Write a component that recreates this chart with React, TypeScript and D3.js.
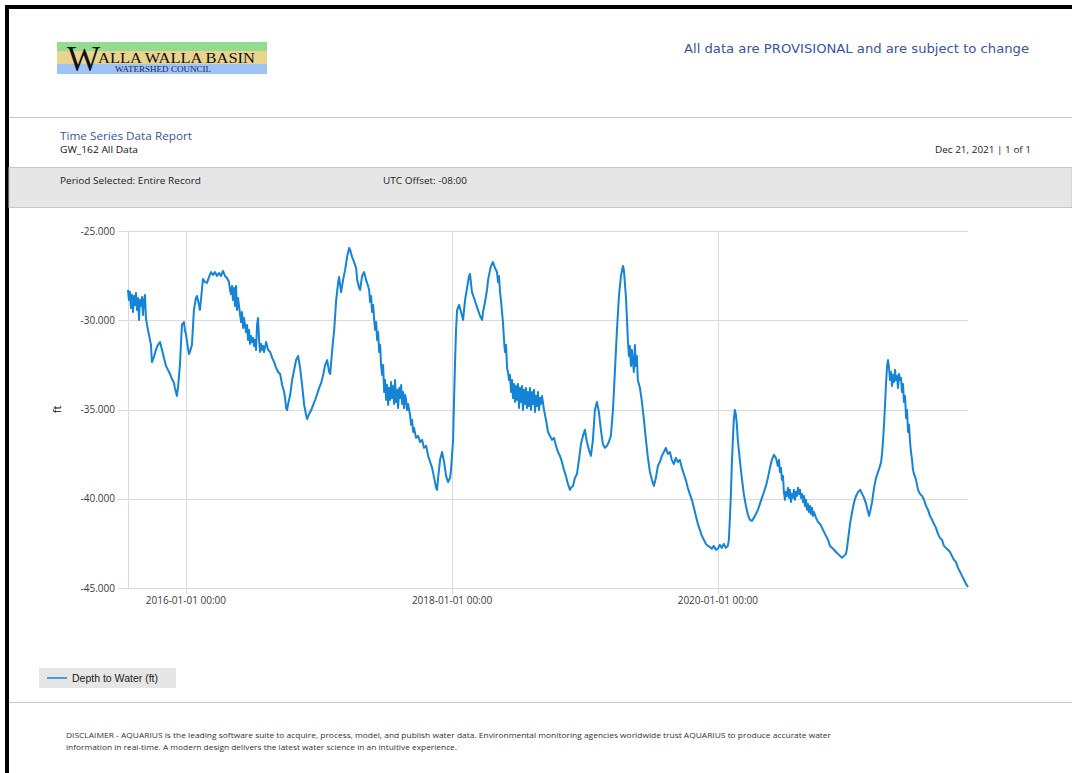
import React from "react";
import * as d3 from "d3";

// Depth to water (ft) observations, [decimal year, value], grouped by calendar year
const obs2015: [number, number][] = [
  [2015.564,-28.30],[2015.571,-28.86],[2015.579,-28.42],[2015.586,-29.31],[2015.594,-28.58],[2015.602,-29.54],[2015.609,-28.64],[2015.617,-29.14],[2015.624,-28.47],[2015.632,-29.42],[2015.639,-28.75],[2015.647,-29.98],[2015.654,-28.86],[2015.662,-29.20],[2015.669,-28.70],[2015.677,-29.70],[2015.684,-28.86],[2015.692,-28.58],[2015.699,-29.87],[2015.707,-30.26],[2015.722,-30.82],[2015.737,-31.38],[2015.744,-32.34],[2015.759,-32.06],[2015.774,-31.66],[2015.789,-31.38],[2015.805,-31.22],[2015.820,-31.66],[2015.835,-32.11],[2015.850,-32.56],[2015.865,-32.78],[2015.880,-33.01],[2015.895,-33.29],[2015.910,-33.51],[2015.917,-33.79],[2015.925,-34.02],[2015.932,-34.24],[2015.940,-33.79],[2015.955,-32.50],[2015.962,-31.38],[2015.970,-30.26],[2015.985,-30.10],[2015.992,-30.54],
];
const obs2016: [number, number][] = [
  [2016.000,-30.77],[2016.015,-31.55],[2016.023,-31.89],[2016.030,-31.78],[2016.045,-31.38],[2016.060,-29.42],[2016.075,-28.75],[2016.083,-28.64],[2016.098,-29.14],[2016.105,-29.42],[2016.120,-28.30],[2016.128,-27.69],[2016.143,-27.86],[2016.158,-27.91],[2016.173,-27.58],[2016.188,-27.30],[2016.203,-27.46],[2016.218,-27.30],[2016.233,-27.52],[2016.248,-27.35],[2016.263,-27.52],[2016.278,-27.24],[2016.293,-27.52],[2016.308,-27.63],[2016.323,-27.86],[2016.331,-28.30],[2016.338,-28.53],[2016.346,-28.08],[2016.353,-28.86],[2016.361,-28.19],[2016.368,-29.20],[2016.376,-28.08],[2016.383,-29.42],[2016.391,-28.75],[2016.406,-29.65],[2016.414,-30.10],[2016.421,-29.54],[2016.429,-30.43],[2016.436,-29.87],[2016.451,-30.66],[2016.459,-30.26],[2016.466,-31.10],[2016.474,-30.54],[2016.481,-31.33],[2016.489,-30.88],[2016.496,-31.22],[2016.504,-30.99],[2016.511,-31.44],[2016.519,-31.10],[2016.526,-31.66],[2016.534,-30.26],[2016.541,-29.87],[2016.549,-31.10],[2016.556,-31.78],[2016.564,-31.33],[2016.571,-31.66],[2016.579,-31.44],[2016.586,-31.78],[2016.602,-31.22],[2016.617,-31.66],[2016.632,-31.78],[2016.647,-32.11],[2016.662,-32.34],[2016.677,-32.67],[2016.692,-32.90],[2016.707,-33.01],[2016.722,-33.63],[2016.737,-34.02],[2016.744,-34.36],[2016.752,-34.92],[2016.759,-35.03],[2016.767,-34.69],[2016.782,-34.19],[2016.797,-33.35],[2016.812,-32.78],[2016.827,-32.23],[2016.842,-32.00],[2016.857,-32.67],[2016.872,-33.63],[2016.887,-34.74],[2016.902,-35.31],[2016.910,-35.53],[2016.925,-35.25],[2016.940,-35.03],[2016.955,-34.74],[2016.970,-34.46],[2016.985,-34.13],
];
const obs2017: [number, number][] = [
  [2017.000,-33.79],[2017.015,-33.51],[2017.030,-33.06],[2017.045,-32.50],[2017.060,-32.23],[2017.075,-32.90],[2017.083,-33.01],[2017.098,-31.66],[2017.113,-30.54],[2017.128,-28.86],[2017.143,-27.86],[2017.150,-27.58],[2017.165,-28.42],[2017.180,-27.74],[2017.195,-27.18],[2017.211,-26.40],[2017.226,-25.95],[2017.233,-26.06],[2017.248,-26.46],[2017.263,-26.74],[2017.278,-27.07],[2017.286,-27.74],[2017.301,-28.19],[2017.308,-28.30],[2017.323,-27.52],[2017.338,-27.30],[2017.353,-27.74],[2017.368,-28.08],[2017.376,-28.30],[2017.383,-28.98],[2017.391,-28.64],[2017.398,-29.54],[2017.406,-29.14],[2017.414,-29.98],[2017.421,-30.54],[2017.429,-30.10],[2017.436,-31.10],[2017.444,-30.66],[2017.451,-31.78],[2017.459,-31.38],[2017.466,-32.56],[2017.474,-33.06],[2017.481,-32.50],[2017.489,-34.02],[2017.496,-33.35],[2017.504,-34.46],[2017.511,-33.63],[2017.519,-34.74],[2017.526,-33.79],[2017.534,-34.46],[2017.541,-33.46],[2017.549,-34.36],[2017.556,-33.68],[2017.564,-34.69],[2017.571,-33.35],[2017.579,-34.58],[2017.586,-33.90],[2017.594,-34.92],[2017.602,-33.79],[2017.609,-34.36],[2017.617,-33.63],[2017.624,-34.69],[2017.632,-34.02],[2017.639,-34.92],[2017.647,-34.19],[2017.654,-34.46],[2017.662,-35.03],[2017.669,-34.69],[2017.684,-35.31],[2017.692,-35.86],[2017.699,-35.58],[2017.707,-36.26],[2017.714,-36.03],[2017.729,-36.59],[2017.744,-36.48],[2017.759,-36.82],[2017.774,-36.70],[2017.789,-37.15],[2017.805,-37.04],[2017.820,-37.60],[2017.835,-37.94],[2017.850,-38.27],[2017.865,-38.83],[2017.880,-39.39],[2017.887,-39.50],[2017.895,-38.83],[2017.910,-37.82],[2017.925,-37.38],[2017.940,-37.94],[2017.955,-38.72],[2017.970,-39.06],[2017.985,-38.83],[2017.992,-38.38],
];
const obs2018: [number, number][] = [
  [2018.008,-36.70],[2018.015,-34.46],[2018.023,-32.23],[2018.030,-30.54],[2018.038,-29.42],[2018.053,-29.14],[2018.068,-29.54],[2018.083,-29.98],[2018.098,-28.86],[2018.113,-28.19],[2018.128,-27.52],[2018.135,-27.41],[2018.150,-28.42],[2018.165,-28.75],[2018.180,-29.09],[2018.195,-29.42],[2018.211,-29.76],[2018.226,-29.98],[2018.233,-29.54],[2018.248,-28.98],[2018.263,-28.30],[2018.271,-27.74],[2018.286,-27.18],[2018.293,-26.96],[2018.308,-26.74],[2018.323,-27.07],[2018.338,-27.30],[2018.346,-27.86],[2018.353,-27.52],[2018.361,-28.42],[2018.368,-28.86],[2018.376,-29.54],[2018.383,-30.10],[2018.391,-31.10],[2018.398,-31.78],[2018.406,-31.38],[2018.414,-32.67],[2018.421,-32.90],[2018.429,-33.35],[2018.436,-33.06],[2018.444,-34.02],[2018.451,-33.35],[2018.459,-34.36],[2018.466,-33.57],[2018.474,-34.58],[2018.481,-33.68],[2018.489,-34.46],[2018.496,-33.57],[2018.504,-34.92],[2018.511,-33.79],[2018.519,-34.58],[2018.526,-33.68],[2018.534,-35.03],[2018.541,-33.90],[2018.549,-34.69],[2018.556,-33.79],[2018.564,-34.92],[2018.571,-34.02],[2018.579,-34.80],[2018.586,-33.79],[2018.594,-35.03],[2018.602,-34.02],[2018.609,-34.69],[2018.617,-33.90],[2018.624,-35.14],[2018.632,-34.24],[2018.639,-34.80],[2018.647,-34.02],[2018.654,-35.03],[2018.662,-34.36],[2018.669,-34.69],[2018.677,-34.24],[2018.692,-35.03],[2018.707,-35.58],[2018.722,-36.26],[2018.737,-36.48],[2018.752,-36.70],[2018.767,-36.59],[2018.782,-37.04],[2018.797,-37.38],[2018.812,-37.60],[2018.827,-37.94],[2018.842,-38.38],[2018.857,-38.72],[2018.872,-39.17],[2018.887,-39.50],[2018.895,-39.39],[2018.910,-39.28],[2018.925,-38.83],[2018.940,-38.61],[2018.955,-37.82],[2018.970,-36.93],[2018.985,-36.48],
];
const obs2019: [number, number][] = [
  [2019.000,-36.14],[2019.015,-36.82],[2019.030,-37.26],[2019.045,-37.60],[2019.060,-36.70],[2019.075,-35.03],[2019.090,-34.58],[2019.105,-35.14],[2019.120,-36.14],[2019.135,-36.93],[2019.150,-37.15],[2019.165,-37.04],[2019.180,-36.82],[2019.195,-36.48],[2019.211,-35.03],[2019.226,-32.78],[2019.241,-30.54],[2019.256,-28.64],[2019.271,-27.52],[2019.286,-26.96],[2019.293,-27.18],[2019.301,-27.97],[2019.308,-28.64],[2019.316,-29.87],[2019.323,-31.10],[2019.331,-32.00],[2019.338,-31.44],[2019.346,-32.56],[2019.353,-31.66],[2019.361,-32.34],[2019.368,-32.90],[2019.376,-31.38],[2019.383,-32.56],[2019.391,-32.00],[2019.398,-33.35],[2019.414,-33.79],[2019.429,-34.58],[2019.444,-35.58],[2019.459,-36.70],[2019.474,-37.71],[2019.489,-38.50],[2019.504,-38.94],[2019.519,-39.28],[2019.534,-38.83],[2019.549,-38.16],[2019.564,-37.94],[2019.579,-37.60],[2019.594,-37.38],[2019.609,-37.15],[2019.624,-37.49],[2019.639,-37.38],[2019.654,-37.82],[2019.669,-38.05],[2019.684,-37.71],[2019.699,-37.94],[2019.714,-37.82],[2019.729,-38.27],[2019.744,-38.61],[2019.759,-38.94],[2019.774,-39.39],[2019.789,-39.73],[2019.805,-40.06],[2019.820,-40.51],[2019.835,-40.96],[2019.850,-41.41],[2019.865,-41.74],[2019.880,-42.08],[2019.895,-42.30],[2019.910,-42.53],[2019.925,-42.64],[2019.940,-42.70],[2019.955,-42.81],[2019.970,-42.64],[2019.985,-42.86],
];
const obs2020: [number, number][] = [
  [2020.000,-42.81],[2020.015,-42.58],[2020.030,-42.75],[2020.045,-42.53],[2020.060,-42.75],[2020.075,-42.64],[2020.083,-42.30],[2020.090,-41.18],[2020.098,-39.78],[2020.105,-38.10],[2020.113,-36.70],[2020.120,-35.58],[2020.128,-35.03],[2020.135,-35.25],[2020.143,-35.86],[2020.150,-36.70],[2020.165,-37.82],[2020.180,-38.83],[2020.195,-39.73],[2020.211,-40.40],[2020.226,-40.90],[2020.241,-41.18],[2020.256,-41.24],[2020.271,-41.07],[2020.286,-40.85],[2020.301,-40.62],[2020.316,-40.29],[2020.331,-39.95],[2020.346,-39.62],[2020.361,-39.28],[2020.376,-38.83],[2020.391,-38.27],[2020.406,-37.82],[2020.421,-37.54],[2020.436,-37.71],[2020.451,-38.16],[2020.459,-37.82],[2020.466,-38.50],[2020.474,-38.27],[2020.481,-38.94],[2020.489,-38.72],[2020.496,-39.62],[2020.504,-40.06],[2020.511,-39.62],[2020.519,-39.84],[2020.526,-39.39],[2020.534,-39.95],[2020.541,-39.50],[2020.549,-40.18],[2020.556,-39.73],[2020.564,-39.95],[2020.571,-39.50],[2020.579,-40.06],[2020.586,-39.62],[2020.594,-39.84],[2020.602,-39.39],[2020.609,-39.73],[2020.617,-39.50],[2020.624,-39.95],[2020.632,-39.73],[2020.639,-40.18],[2020.647,-39.84],[2020.654,-40.40],[2020.662,-40.06],[2020.669,-40.62],[2020.677,-40.29],[2020.684,-40.74],[2020.692,-40.40],[2020.699,-40.85],[2020.707,-40.51],[2020.714,-40.96],[2020.722,-40.74],[2020.737,-41.07],[2020.752,-41.30],[2020.767,-41.41],[2020.782,-41.63],[2020.797,-41.86],[2020.812,-42.08],[2020.827,-42.30],[2020.842,-42.64],[2020.857,-42.75],[2020.872,-42.86],[2020.887,-42.98],[2020.902,-43.09],[2020.917,-43.20],[2020.932,-43.31],[2020.947,-43.20],[2020.962,-43.09],[2020.970,-42.75],[2020.977,-42.30],[2020.985,-41.86],[2020.992,-41.41],
];
const obs2021: [number, number][] = [
  [2021.008,-40.74],[2021.023,-40.18],[2021.038,-39.84],[2021.053,-39.62],[2021.068,-39.50],[2021.083,-39.73],[2021.098,-39.95],[2021.113,-40.29],[2021.128,-40.74],[2021.135,-40.96],[2021.143,-40.74],[2021.158,-40.18],[2021.173,-39.39],[2021.188,-38.83],[2021.203,-38.50],[2021.218,-38.16],[2021.226,-37.94],[2021.233,-37.49],[2021.241,-36.70],[2021.248,-35.81],[2021.256,-34.69],[2021.263,-33.57],[2021.271,-32.56],[2021.278,-32.23],[2021.286,-32.67],[2021.293,-33.35],[2021.301,-32.90],[2021.308,-33.68],[2021.316,-33.06],[2021.323,-33.46],[2021.331,-32.78],[2021.338,-33.35],[2021.346,-33.12],[2021.353,-33.79],[2021.361,-33.01],[2021.368,-33.35],[2021.376,-33.23],[2021.383,-34.02],[2021.391,-33.57],[2021.398,-34.58],[2021.406,-34.24],[2021.414,-35.47],[2021.421,-35.03],[2021.429,-36.26],[2021.436,-35.86],[2021.444,-36.82],[2021.451,-37.38],[2021.459,-37.82],[2021.466,-38.38],[2021.474,-38.61],[2021.489,-38.94],[2021.504,-39.50],[2021.519,-39.73],[2021.534,-39.84],[2021.549,-40.06],[2021.564,-40.40],[2021.579,-40.62],[2021.594,-40.96],[2021.609,-41.18],[2021.624,-41.41],[2021.639,-41.63],[2021.654,-41.97],[2021.669,-42.19],[2021.684,-42.30],[2021.699,-42.64],[2021.714,-42.75],[2021.729,-42.86],[2021.744,-42.98],[2021.759,-43.20],[2021.774,-43.42],[2021.789,-43.54],[2021.805,-43.87],[2021.820,-44.10],[2021.835,-44.32],[2021.850,-44.54],[2021.865,-44.77],[2021.880,-44.94],
];

const yTicks = [-25, -30, -35, -40, -45];
const xTickDates = ["2016-01-01", "2018-01-01", "2020-01-01"];
const seriesName = "Depth to Water (ft)";
const yAxisTitle = "ft";

const W = 1072;
const H = 773;
const plot = { left: 128, right: 968, top: 231, bottom: 588 };
const lineColor = "#1584d6";
const gridColor = "#dadada";
const navy = "#3953a4";
const sans = "'Open Sans', 'DejaVu Sans', sans-serif";

function fromDecimalYear(t: number): Date {
  const y = Math.floor(t);
  const start = Date.UTC(y, 0, 1);
  const end = Date.UTC(y + 1, 0, 1);
  return new Date(start + (t - y) * (end - start));
}

export default function App() {
  const points = [obs2015, obs2016, obs2017, obs2018, obs2019, obs2020, obs2021]
    .flat()
    .map(([t, v]) => ({ date: fromDecimalYear(t), value: v }));

  const x = d3
    .scaleUtc()
    .domain(d3.extent(points, (d) => d.date) as [Date, Date])
    .range([plot.left, plot.right]);
  const y = d3.scaleLinear().domain([-45, -25]).range([plot.bottom, plot.top]);

  const line = d3
    .line<{ date: Date; value: number }>()
    .x((d) => x(d.date))
    .y((d) => y(d.value));

  const fmtY = d3.formatLocale({ decimal: ".", thousands: ",", grouping: [3], currency: ["", ""], minus: "-" }).format(".3f");
  const fmtX = d3.utcFormat("%Y-%m-%d %H:%M");
  const xTicks = xTickDates.map((s) => new Date(s + "T00:00:00Z"));

  return (
    <svg
      width={W}
      height={H}
      viewBox={`0 0 ${W} ${H}`}
      style={{ position: "absolute", left: 0, top: 0, display: "block", background: "#fff" }}
    >
      {/* page frame */}
      <rect x={5} y={5} width={4} height={H - 5} fill="#000" />
      <rect x={5} y={5} width={W - 5} height={4} fill="#000" />

      {/* logo */}
      <g>
        <rect x={57} y={42} width={210} height={9} fill="#93dc8f" />
        <rect x={57} y={51} width={210} height={13} fill="#e9d38f" />
        <rect x={57} y={64} width={210} height={10} fill="#9fc3f5" />
        <text x={67} y={71} fontFamily="'Liberation Serif', 'DejaVu Serif', serif" fontSize={35} fill="#111">W</text>
        <text x={98} y={63} fontFamily="'Liberation Serif', 'DejaVu Serif', serif" fontSize={15} fill="#111" textLength={157} lengthAdjust="spacingAndGlyphs">ALLA WALLA BASIN</text>
        <text x={115} y={72} fontFamily="'Liberation Serif', 'DejaVu Serif', serif" fontSize={7.5} fill="#1a2350" textLength={96} lengthAdjust="spacingAndGlyphs">WATERSHED COUNCIL</text>
      </g>
      <text x={684} y={53} fontFamily="'DejaVu Sans', sans-serif" fontSize={13} fill={navy} textLength={345} lengthAdjust="spacingAndGlyphs">All data are PROVISIONAL and are subject to change</text>

      {/* report header */}
      <line x1={9} x2={W} y1={117.5} y2={117.5} stroke="#c8c8c8" />
      <text x={60} y={140} fontFamily={sans} fontSize={11} fill={navy} textLength={132} lengthAdjust="spacingAndGlyphs">Time Series Data Report</text>
      <text x={60} y={153} fontFamily={sans} fontSize={9} fill="#111" textLength={78} lengthAdjust="spacingAndGlyphs">GW_162 All Data</text>
      <text x={1031} y={153} textAnchor="end" fontFamily={sans} fontSize={9} fill="#222" textLength={96} lengthAdjust="spacingAndGlyphs">Dec 21, 2021 | 1 of 1</text>
      <rect x={9} y={167.5} width={W - 9} height={40} fill="#e6e6e6" stroke="#c8c8c8" />
      <text x={60} y={184} fontFamily={sans} fontSize={9} fill="#222" textLength={141} lengthAdjust="spacingAndGlyphs">Period Selected: Entire Record</text>
      <text x={383} y={184} fontFamily={sans} fontSize={9} fill="#222" textLength={84} lengthAdjust="spacingAndGlyphs">UTC Offset: -08:00</text>

      {/* grid */}
      {yTicks.map((v) => (
        <line key={`gy${v}`} x1={118} x2={plot.right} y1={Math.round(y(v)) + 0.5} y2={Math.round(y(v)) + 0.5} stroke={gridColor} />
      ))}
      <line x1={plot.left + 0.5} x2={plot.left + 0.5} y1={plot.top} y2={plot.bottom} stroke={gridColor} />
      {xTicks.map((d, i) => (
        <line key={`gx${i}`} x1={Math.round(x(d)) + 0.5} x2={Math.round(x(d)) + 0.5} y1={plot.top} y2={plot.bottom + 6} stroke={gridColor} />
      ))}

      {/* axis labels */}
      {yTicks.map((v) => (
        <text key={`ty${v}`} x={115} y={y(v) + 3.5} textAnchor="end" fontFamily={sans} fontSize={10} fill="#3a3a3a">{fmtY(v)}</text>
      ))}
      {xTicks.map((d, i) => (
        <text key={`tx${i}`} x={x(d)} y={604} textAnchor="middle" fontFamily={sans} fontSize={10} fill="#3a3a3a">{fmtX(d)}</text>
      ))}
      <text transform={`translate(61,${(plot.top + plot.bottom) / 2}) rotate(-90)`} textAnchor="middle" fontFamily={sans} fontSize={11} fill="#111">{yAxisTitle}</text>

      {/* series */}
      <path d={line(points) ?? ""} fill="none" stroke={lineColor} strokeWidth={2} strokeLinejoin="round" />

      {/* legend */}
      <rect x={39} y={668} width={137} height={20} fill="#e6e6e6" />
      <line x1={47} x2={67} y1={678} y2={678} stroke={lineColor} strokeWidth={1.5} />
      <text x={72} y={682} fontFamily="'Liberation Sans', Arial, sans-serif" fontSize={10.5} fill="#222">{seriesName}</text>

      {/* footer */}
      <line x1={9} x2={W} y1={702.5} y2={702.5} stroke="#c8c8c8" />
      <text x={66} y={738} fontFamily={sans} fontSize={7.2} fill="#333" textLength={765} lengthAdjust="spacingAndGlyphs">DISCLAIMER - AQUARIUS is the leading software suite to acquire, process, model, and publish water data. Environmental monitoring agencies worldwide trust AQUARIUS to produce accurate water</text>
      <text x={66} y={750} fontFamily={sans} fontSize={7.2} fill="#333" textLength={391} lengthAdjust="spacingAndGlyphs">information in real-time. A modern design delivers the latest water science in an intuitive experience.</text>
    </svg>
  );
}
